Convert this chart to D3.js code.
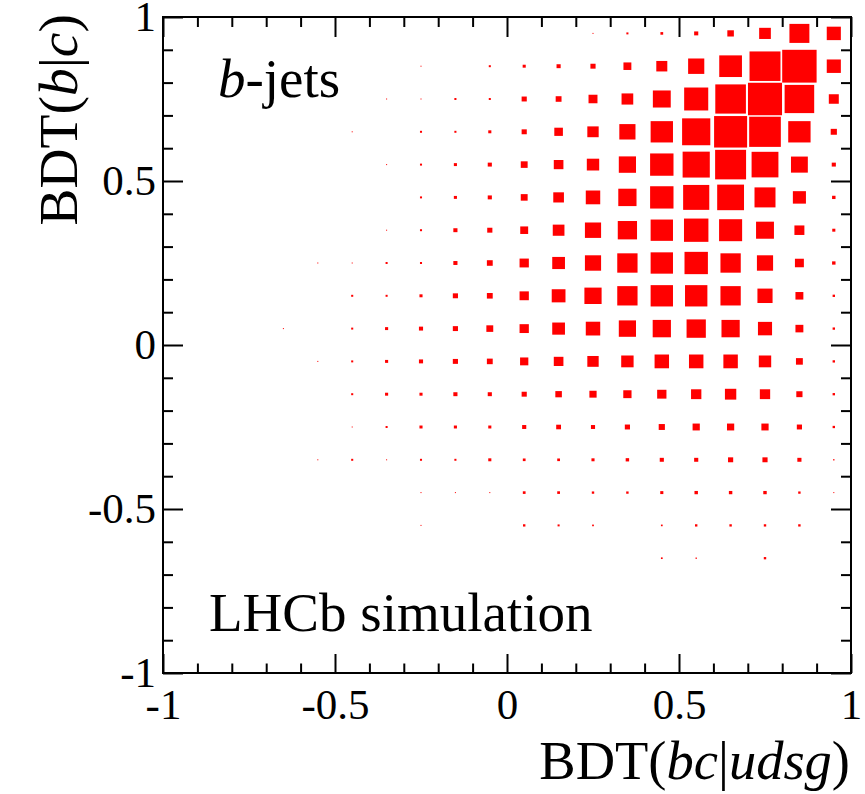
<!DOCTYPE html>
<html><head><meta charset="utf-8">
<script src="https://cdn.jsdelivr.net/npm/d3@7"></script>
<style>
body{margin:0;background:#fff}
svg{display:block}
text{font-family:"Liberation Serif","Times New Roman",serif;fill:#000}
</style>
</head><body>
<svg id="chart" width="865" height="794"></svg>
<script>
// ---- data: bin centres (BDT(bc|udsg) along x, BDT(b|c) along y) ----
const binCentersX = [-0.95,-0.85,-0.75,-0.65,-0.55,-0.45,-0.35,-0.25,-0.15,-0.05,
                      0.05, 0.15, 0.25, 0.35, 0.45, 0.55, 0.65, 0.75, 0.85, 0.95];
const binCentersY = [ 0.95, 0.85, 0.75, 0.65, 0.55, 0.45, 0.35, 0.25, 0.15, 0.05,
                     -0.05,-0.15,-0.25,-0.35,-0.45,-0.55,-0.65,-0.75,-0.85,-0.95];
// relative bin content, one row per BDT(b|c) bin (top row first)
const counts = [
  [0,0,0,0,0,0,0,0,0,0, 0, 0, 3, 6, 8,12,19,34, 58,41],
  [0,0,0,0,0,0,0,3,0,6, 9,12,15,23,32,47,66,90,100,41],
  [0,0,0,0,0,0,3,3,6,6,15,17,26,34,52,70,89,99, 86,29],
  [0,0,0,0,0,3,0,6,6,9,15,25,33,47,65,82,96,92, 65,18],
  [0,0,0,0,0,0,3,6,9,12,20,28,36,50,68,79,90,78,49,12],
  [0,0,0,0,0,0,0,6,9,12,20,31,42,53,68,76,78,61,38,10],
  [0,0,0,0,0,0,3,6,12,15,23,34,47,56,65,71,67,52,29,9],
  [0,0,0,0,3,3,6,6,12,17,27,37,47,59,65,68,59,47,26,10],
  [0,0,0,0,0,6,6,9,15,17,27,40,50,59,65,65,59,44,23,7],
  [0,0,0,3,0,6,9,12,15,20,27,37,42,50,53,56,53,41,23,7],
  [0,0,0,0,3,6,9,12,15,17,24,28,33,36,42,42,42,36,20,7],
  [0,0,0,0,0,6,9,9,12,12,15,19,21,24,27,30,33,30,18,7],
  [0,0,0,0,0,3,6,9,9,9,12,14,12,15,18,21,21,21,15,7],
  [0,0,0,0,3,6,3,6,6,9,8,8,9,10,12,12,15,15,12,4],
  [0,0,0,0,0,0,0,3,3,3,8,8,7,7,9,10,10,10,7,3],
  [0,0,0,0,0,0,0,3,0,0,7,6,5,0,5,7,7,7,7,0],
  [0,0,0,0,0,0,0,0,0,0,0,0,0,0,5,4,0,7,0,0],
  [0,0,0,0,0,0,0,0,0,0,0,0,0,0,0,0,0,0,0,0],
  [0,0,0,0,0,0,0,0,0,0,0,0,0,0,0,0,0,0,0,0],
  [0,0,0,0,0,0,0,0,0,0,0,0,0,0,0,0,0,0,0,0]
];
const binWidth = 0.1;
const majorTicks = [-1,-0.5,0,0.5,1];
const majorTickLabels = ["-1","-0.5","0","0.5","1"];
const minorTicks = [-0.9,-0.8,-0.7,-0.6,-0.4,-0.3,-0.2,-0.1,0.1,0.2,0.3,0.4,0.6,0.7,0.8,0.9];
const sampleLabel = "-jets";
const experimentLabel = "LHCb simulation";

// ---- layout ----
const pL = 163, pR = 851, pT = 17, pB = 673;
const svg = d3.select("#chart");
const x = d3.scaleLinear().domain([-1,1]).range([pL,pR]);
const y = d3.scaleLinear().domain([-1,1]).range([pB,pT]);
const zmax = d3.max(counts.flat());
const frac = d3.scaleLinear().domain([0,zmax]).range([0,1]);
const bw = x(binWidth) - x(0), bh = y(0) - y(binWidth);

const cells = [];
counts.forEach((row,j) => row.forEach((v,i) => {
  if (v > 0) cells.push({cx: binCentersX[i], cy: binCentersY[j], v});
}));

svg.append("g").selectAll("rect").data(cells).join("rect")
  .attr("x", d => x(d.cx) - Math.max(frac(d.v)*bw, 1)/2)
  .attr("y", d => y(d.cy) - Math.max(frac(d.v)*bh, 1)/2)
  .attr("width", d => Math.max(frac(d.v)*bw, 1))
  .attr("height", d => Math.max(frac(d.v)*bh, 1))
  .attr("fill", "#ff0000");

// ---- axes ----
const fmt = d => majorTickLabels[majorTicks.indexOf(d)];
function styleAxis(g, fs){
  g.attr("font-family", '"Liberation Serif","Times New Roman",serif').attr("font-size", fs);
  g.select(".domain").remove();
  g.selectAll(".tick line").attr("stroke", "#000").attr("stroke-width", 2);
}
svg.append("g").attr("transform", `translate(0,${pB})`)
  .call(d3.axisBottom(x).tickValues(majorTicks).tickSize(-19).tickPadding(15).tickFormat(fmt))
  .call(g => styleAxis(g, 43));
svg.append("g").attr("transform", `translate(0,${pB})`)
  .call(d3.axisBottom(x).tickValues(minorTicks).tickSize(-9.5).tickFormat(""))
  .call(g => styleAxis(g, 43));
svg.append("g").attr("transform", `translate(${pL},0)`)
  .call(d3.axisLeft(y).tickValues(majorTicks).tickSize(-20).tickPadding(7).tickFormat(fmt))
  .call(g => styleAxis(g, 43));
svg.append("g").attr("transform", `translate(${pL},0)`)
  .call(d3.axisLeft(y).tickValues(minorTicks).tickSize(-10).tickFormat(""))
  .call(g => styleAxis(g, 43));
svg.append("g").attr("transform", `translate(0,${pT})`)
  .call(d3.axisTop(x).tickValues(majorTicks).tickSize(-20).tickFormat(""))
  .call(g => styleAxis(g, 43));
svg.append("g").attr("transform", `translate(0,${pT})`)
  .call(d3.axisTop(x).tickValues(minorTicks).tickSize(-10).tickFormat(""))
  .call(g => styleAxis(g, 43));
svg.append("g").attr("transform", `translate(${pR},0)`)
  .call(d3.axisRight(y).tickValues(majorTicks).tickSize(-20).tickFormat(""))
  .call(g => styleAxis(g, 43));
svg.append("g").attr("transform", `translate(${pR},0)`)
  .call(d3.axisRight(y).tickValues(minorTicks).tickSize(-10).tickFormat(""))
  .call(g => styleAxis(g, 43));

// frame
svg.append("rect").attr("x", pL).attr("y", pT)
  .attr("width", pR-pL).attr("height", pB-pT)
  .attr("fill", "none").attr("stroke", "#000").attr("stroke-width", 2);

// ---- titles ----
const xt = svg.append("text").attr("x", pR - 1).attr("y", 779)
  .attr("text-anchor", "end").attr("font-size", 54.5);
xt.append("tspan").text("BDT(");
xt.append("tspan").attr("font-style", "italic").text("bc");
xt.append("tspan").text("|");
xt.append("tspan").attr("font-style", "italic").text("udsg");
xt.append("tspan").text(")");

const yt = svg.append("text").attr("transform", "translate(77,14) rotate(-90)")
  .attr("text-anchor", "end").attr("font-size", 55.5);
yt.append("tspan").text("BDT(");
yt.append("tspan").attr("font-style", "italic").text("b");
yt.append("tspan").text("|");
yt.append("tspan").attr("font-style", "italic").text("c");
yt.append("tspan").text(")");

const lab = svg.append("text").attr("x", 218).attr("y", 97).attr("font-size", 55);
lab.append("tspan").attr("font-style", "italic").text("b");
lab.append("tspan").text(sampleLabel);

svg.append("text").attr("x", 209).attr("y", 631).attr("font-size", 55).text(experimentLabel);
</script>
</body></html>
